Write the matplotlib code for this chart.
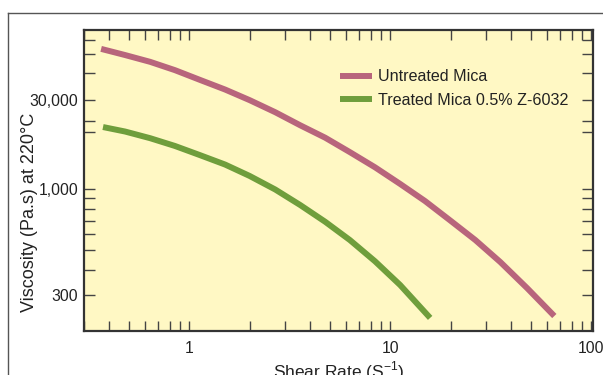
import numpy as np
import matplotlib
matplotlib.use("Agg")
import matplotlib.pyplot as plt
from matplotlib.lines import Line2D

plt.rcParams['font.family'] = ['Liberation Sans', 'DejaVu Sans']

# data (shear rate 1/s, viscosity Pa.s)
untreated_x = [0.365, 0.48, 0.64, 0.85, 1.13, 1.51, 2.0, 2.68, 3.57, 4.75,
               6.3, 8.4, 11.2, 14.9, 19.9, 26.5, 35.3, 48.0, 65.5]
untreated_y = [4900, 4570, 4230, 3850, 3450, 3090, 2740, 2390, 2060, 1790,
               1520, 1280, 1060, 873, 700, 561, 437, 325, 237]
treated_x = [0.373, 0.48, 0.64, 0.85, 1.13, 1.51, 2.0, 2.68, 3.57, 4.75,
             6.3, 8.4, 11.2, 15.8]
treated_y = [2020, 1920, 1780, 1630, 1470, 1320, 1160, 995, 834, 690,
             561, 441, 337, 232]

labels = ["Untreated Mica", "Treated Mica 0.5% Z-6032"]
colors = ["#B8657C", "#6F9E3C"]

ytick_vals = [2740, 1000, 300]
ytick_text = ["30,000", "1,000", "300"]
yminor_vals = [5450, 4640, 3740, 2160, 1910, 900, 800, 700, 600, 500, 400]
xtick_vals = [1, 10, 100]
xtick_text = ["1", "10", "100"]

fig = plt.figure(figsize=(6.03, 3.75), dpi=100)
ax = fig.add_axes([84/603, 44/375, 509/603, 301/375])
ax.set_facecolor("#FFF8C4")

ax.plot(untreated_x, untreated_y, color=colors[0], lw=4.3, solid_capstyle="butt")
ax.plot(treated_x, treated_y, color=colors[1], lw=4.3, solid_capstyle="butt")

ax.set_xscale("log")
ax.set_yscale("log")
ax.set_xlim(0.3, 102)
ax.set_ylim(200, 6070)

ax.set_xticks(xtick_vals)
ax.set_xticklabels(xtick_text)
ax.set_yticks(ytick_vals)
ax.set_yticklabels(ytick_text)
ax.set_yticks(yminor_vals, minor=True)
ax.yaxis.set_minor_formatter(matplotlib.ticker.NullFormatter())
ax.xaxis.set_minor_locator(matplotlib.ticker.LogLocator(base=10, subs=np.arange(2, 10)))
ax.xaxis.set_minor_formatter(matplotlib.ticker.NullFormatter())

ax.tick_params(which="both", direction="in", top=True, right=True,
               color="#444444", width=1.0, labelsize=11.3, labelcolor="#222222")
ax.tick_params(axis="y", which="both", length=8, pad=4)
ax.tick_params(axis="x", which="both", length=7.5, pad=7)

for s in ax.spines.values():
    s.set_color("#333333")
    s.set_linewidth(1.6)

ax.set_xlabel(r"Shear Rate (S$^{\mathregular{-1}}$)", fontsize=12.5, color="#222222", labelpad=3)
ax.set_ylabel("Viscosity (Pa.s) at 220°C", fontsize=13, color="#222222")
ax.yaxis.set_label_coords(-0.091, 0.395)

handles = [Line2D([], [], color=c, lw=4.3, solid_capstyle="butt") for c in colors]
ax.legend(handles, labels, loc="upper left", bbox_to_anchor=(0.474, 0.917),
          frameon=False, fontsize=11.6, handlelength=2.0, handletextpad=0.4,
          labelspacing=0.5, labelcolor="#222222")

# outer frame of the figure panel
fig.add_artist(Line2D([8/603, 8/603], [0, 1 - 13/375], color="#555555", lw=1.0,
                      transform=fig.transFigure))
fig.add_artist(Line2D([8/603, 1], [1 - 13/375, 1 - 13/375], color="#555555", lw=1.0,
                      transform=fig.transFigure))

fig.savefig("out.png", dpi=100)
